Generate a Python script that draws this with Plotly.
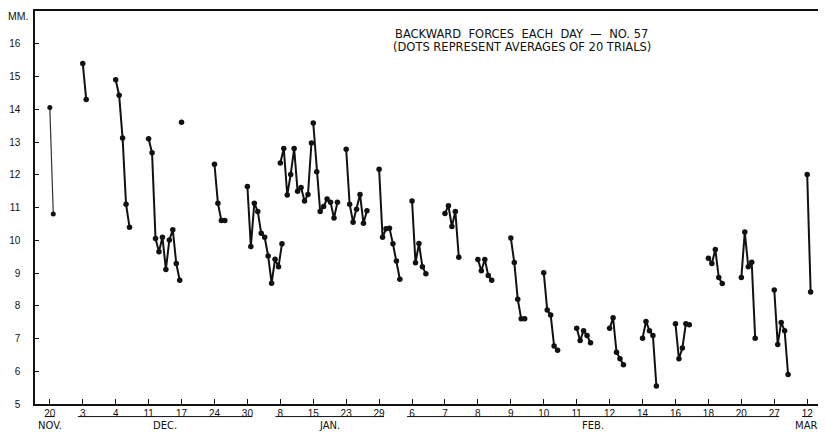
import plotly.graph_objects as go

# ---------------- data ----------------
TICK_LABELS = ["20", "3", "4", "11", "17", "24", "30", "8", "15", "23", "29",
               "6", "7", "8", "9", "10", "11", "12", "14", "16", "18", "20", "27", "12"]
MONTHS = ["NOV.", "DEC.", "JAN.", "FEB.", "MAR."]
MONTH_FIRST = [0, 1, 7, 11, 23]
MONTH_LAST = [0, 6, 10, 22, 23]
Y_TICKS = [5, 6, 7, 8, 9, 10, 11, 12, 13, 14, 15, 16]

NOV_20 = [14.05, 10.8]
DEC_3 = [15.4, 14.3]
DEC_4 = [14.9, 14.43, 13.12, 11.1, 10.4]
DEC_11 = [13.1, 12.67, 10.05, 9.65, 10.09, 9.11, 10.01, 10.32, 9.29, 8.78]
DEC_17 = [13.6]
DEC_24 = [12.32, 11.13, 10.6, 10.6]
DEC_30 = [11.64, 9.81, 11.13, 10.88, 10.21, 10.09, 9.52, 8.69, 9.42, 9.19, 9.89]
JAN_8 = [12.36, 12.8, 11.38, 12.01, 12.8, 11.5, 11.61, 11.2, 11.4, 12.97]
JAN_15 = [13.58, 12.09, 10.88, 11.03, 11.26, 11.16, 10.68, 11.16]
JAN_23 = [12.78, 11.1, 10.55, 10.95, 11.4, 10.52, 10.9]
JAN_29 = [12.17, 10.09, 10.35, 10.37, 9.89, 9.37, 8.81]
FEB_6 = [11.2, 9.31, 9.9, 9.19, 8.98]
FEB_7 = [10.82, 11.05, 10.42, 10.88, 9.48]
FEB_8 = [9.41, 9.07, 9.41, 8.92, 8.78]
FEB_9 = [10.07, 9.32, 8.2, 7.6, 7.6]
FEB_10 = [9.01, 7.87, 7.72, 6.77, 6.64]
FEB_11 = [7.31, 6.94, 7.24, 7.09, 6.87]
FEB_12 = [7.31, 7.63, 6.58, 6.38, 6.2]
FEB_14 = [7.01, 7.52, 7.24, 7.09, 5.55]
FEB_16 = [7.45, 6.38, 6.71, 7.45, 7.42]
FEB_18 = [9.45, 9.29, 9.72, 8.86, 8.68]
FEB_20 = [8.86, 10.25, 9.19, 9.33, 7.01]
FEB_27 = [8.48, 6.82, 7.49, 7.24, 5.9]
MAR_12 = [12.01, 8.42]

SESSIONS = [NOV_20, DEC_3, DEC_4, DEC_11, DEC_17, DEC_24, DEC_30, JAN_8, JAN_15,
            JAN_23, JAN_29, FEB_6, FEB_7, FEB_8, FEB_9, FEB_10, FEB_11, FEB_12,
            FEB_14, FEB_16, FEB_18, FEB_20, FEB_27, MAR_12]

TITLE_1 = "BACKWARD  FORCES  EACH  DAY  \u2014  NO. 57"
TITLE_2 = "(DOTS REPRESENT AVERAGES OF 20 TRIALS)"

# ---------------- figure ----------------
STEP = 0.105
FONT = "Liberation Sans, Arial, sans-serif"
TFONT = "DejaVu Sans, Verdana, sans-serif"
INK = "#111111"

fig = go.Figure()


def seg_xy(groups, idxs):
    xs, ys = [], []
    for i in idxs:
        for k, v in enumerate(groups[i]):
            xs.append(i + STEP * k)
            ys.append(v)
        xs.append(None)
        ys.append(None)
    return xs, ys


# first day drawn with a thinner line, as in the original
x0, y0 = seg_xy(SESSIONS, [0])
fig.add_trace(go.Scatter(x=x0, y=y0, mode="lines+markers",
                         line=dict(color="#333333", width=1.2),
                         marker=dict(color=INK, size=5), showlegend=False,
                         hoverinfo="skip"))
x1, y1 = seg_xy(SESSIONS, range(1, len(SESSIONS)))
fig.add_trace(go.Scatter(x=x1, y=y1, mode="lines+markers",
                         line=dict(color=INK, width=2),
                         marker=dict(color=INK, size=5.5), showlegend=False,
                         hoverinfo="skip"))

annotations = [
    dict(text=TITLE_1, x=0.618, y=0.9405, xref="paper", yref="paper",
         showarrow=False, font=dict(family=TFONT, size=11.5, color=INK),
         xanchor="center", yanchor="middle"),
    dict(text=TITLE_2, x=0.618, y=0.9076, xref="paper", yref="paper",
         showarrow=False, font=dict(family=TFONT, size=11.5, color=INK),
         xanchor="center", yanchor="middle"),
    dict(text="MM.", x=-0.021, y=0.987, xref="paper", yref="paper",
         showarrow=False, font=dict(family=FONT, size=10.5, color=INK),
         xanchor="center", yanchor="middle"),
]
shapes = []
for name, a, b in zip(MONTHS, MONTH_FIRST, MONTH_LAST):
    annotations.append(dict(text=name, x=(a + b) / 2, y=-0.054, xref="x",
                            yref="paper", showarrow=False,
                            font=dict(family=TFONT, size=10, color=INK),
                            xanchor="center", yanchor="middle"))
    shapes.append(dict(type="line", xref="x", yref="paper",
                       x0=a - 0.15, x1=b + 0.15, y0=-0.032, y1=-0.032,
                       line=dict(color=INK, width=1)))

# The page body has an 8px default margin, so the figure is sized to fill
# the rest of the 826x432 window.
fig.update_layout(
    width=818, height=424,
    margin=dict(l=25, r=2, t=1, b=28),
    paper_bgcolor="white", plot_bgcolor="white",
    font=dict(family=FONT, size=10, color=INK),
    annotations=annotations, shapes=shapes,
)
fig.update_xaxes(range=[-0.45, 23.48], tickmode="array",
                 tickvals=list(range(len(TICK_LABELS))), ticktext=TICK_LABELS,
                 ticks="inside", ticklen=5, tickwidth=1, tickcolor=INK,
                 showline=True, linecolor=INK, linewidth=1.5, mirror=True,
                 showgrid=False, zeroline=False, tickfont=dict(size=10),
                 ticklabelstandoff=-1)
fig.update_yaxes(range=[5, 17], tickmode="array", tickvals=Y_TICKS,
                 ticks="inside", ticklen=4, tickwidth=1, tickcolor=INK,
                 showline=True, linecolor=INK, linewidth=1.5, mirror=True,
                 showgrid=False, zeroline=False, tickfont=dict(size=10),
                 ticklabelstandoff=11)

fig.write_html("out.html")
